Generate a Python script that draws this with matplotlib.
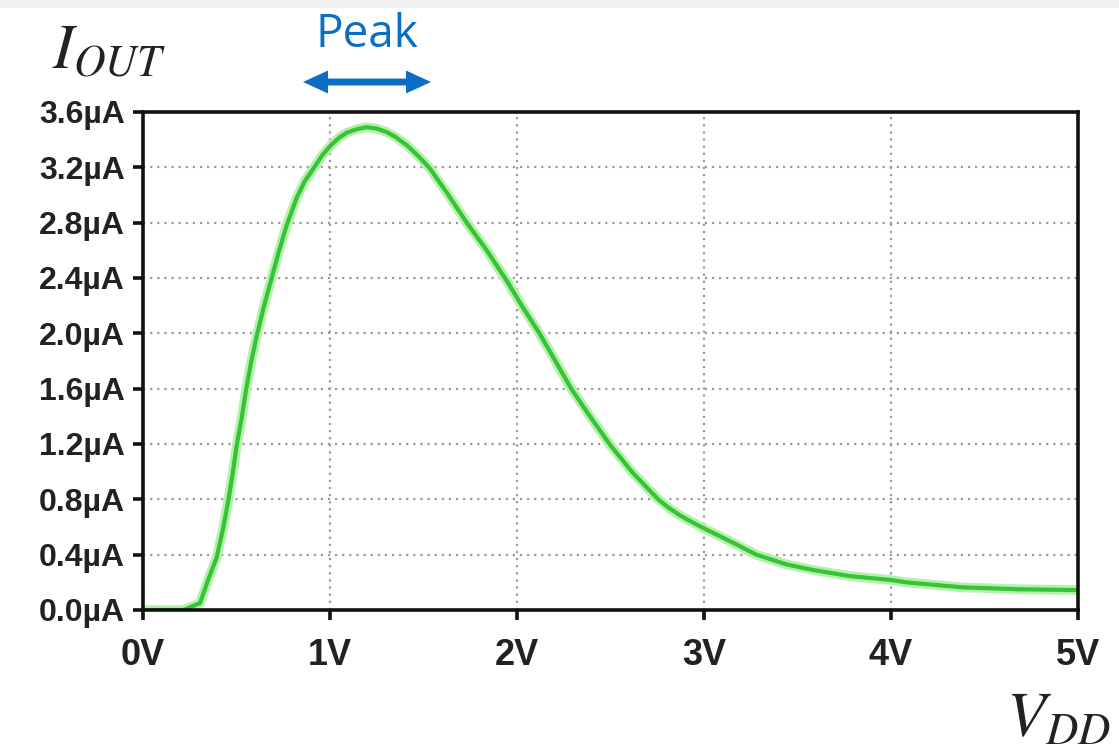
import matplotlib
matplotlib.use("Agg")
import matplotlib.pyplot as plt
from matplotlib.patches import Rectangle, FancyArrowPatch, ArrowStyle

# Output current vs. supply voltage
vdd = [0.00, 0.10, 0.216, 0.305, 0.349, 0.394, 0.43, 0.456, 0.479, 0.501,
       0.528, 0.551, 0.578, 0.608, 0.644, 0.688, 0.724, 0.768, 0.822, 0.865,
       0.911, 0.96, 1.005, 1.05, 1.089, 1.14, 1.196, 1.25, 1.303, 1.35, 1.41,
       1.47, 1.535, 1.633, 1.731, 1.838, 1.95, 2.03, 2.12, 2.205, 2.29, 2.39,
       2.50, 2.62, 2.755, 2.81, 2.87, 2.93, 3.00, 3.15, 3.28, 3.44, 3.58,
       3.78, 4.00, 4.08, 4.38, 4.68, 5.00]
iout = [0.00, 0.00, 0.00, 0.05, 0.22, 0.38, 0.60, 0.79, 0.98, 1.19,
        1.39, 1.59, 1.79, 1.98, 2.18, 2.40, 2.58, 2.78, 2.98, 3.10,
        3.19, 3.29, 3.36, 3.415, 3.45, 3.475, 3.49, 3.48, 3.455, 3.42, 3.36,
        3.285, 3.19, 3.00, 2.80, 2.60, 2.37, 2.19, 2.00, 1.80, 1.60, 1.40,
        1.19, 0.99, 0.80, 0.74, 0.685, 0.64, 0.59, 0.49, 0.40, 0.33, 0.29,
        0.245, 0.217, 0.20, 0.164, 0.150, 0.144]

x_ticks = [0, 1, 2, 3, 4, 5]
x_labels = ["0V", "1V", "2V", "3V", "4V", "5V"]
y_ticks = [0.0, 0.4, 0.8, 1.2, 1.6, 2.0, 2.4, 2.8, 3.2, 3.6]
y_labels = ["0.0µA", "0.4µA", "0.8µA", "1.2µA", "1.6µA", "2.0µA",
            "2.4µA", "2.8µA", "3.2µA", "3.6µA"]

W, H = 1119, 751
fig = plt.figure(figsize=(W / 100, H / 100), dpi=100)
fig.patch.set_facecolor("white")

# light band across the top edge
fig.add_artist(Rectangle((0, 1 - 8 / H), 1, 8 / H, transform=fig.transFigure,
                         facecolor="#f0f0f3", edgecolor="none"))

ax = fig.add_axes([143 / W, 1 - 610 / H, (1078 - 143) / W, (610 - 112) / H])
ax.set_xlim(0, 5)
ax.set_ylim(0, 3.6)

ax.grid(True, color="#9a9a9a", linestyle=(0, (1, 2.2)), linewidth=1.6)
ax.set_axisbelow(True)

# glow + core of the trace
ax.plot(vdd, iout, color="#b4f2ac", linewidth=7.0, solid_capstyle="round",
        solid_joinstyle="round", zorder=3)
ax.plot(vdd, iout, color="#38c238", linewidth=3.0, solid_capstyle="round",
        solid_joinstyle="round", zorder=4)

for s in ax.spines.values():
    s.set_linewidth(2.6)
    s.set_color("#111111")
    s.set_zorder(5)

tick_font = dict(family="Liberation Sans", weight="bold")
ax.set_xticks(x_ticks)
ax.set_xticklabels(x_labels, fontsize=26, color="#222222", **tick_font)
ax.set_yticks(y_ticks)
ax.set_yticklabels(y_labels, fontsize=23, color="#222222", **tick_font)
ax.tick_params(axis="x", direction="out", length=7, width=2.6, pad=13,
               color="#111111")
ax.tick_params(axis="y", direction="out", length=7, width=2.6, pad=6,
               color="#111111")

plt.rcParams["mathtext.fontset"] = "stix"

# axis names
fig.text(52 / W, 1 - 68 / H, r"$I_{OUT}$", fontsize=45, color="#222222",
         ha="left", va="baseline")
fig.text(1006 / W, 1 - 737 / H, r"$V_{DD}$", fontsize=46, color="#222222",
         ha="left", va="baseline")

# peak marker: double-headed arrow drawn as two halves from the centre
blue = "#0a6fc2"
fig.text(367 / W, 1 - 47 / H, "Peak", fontsize=33, color=blue,
         family="Open Sans", ha="center", va="baseline")
head = ArrowStyle.Simple(head_length=18, head_width=16.5, tail_width=5)
yc = 1 - 82 / H
xc = 367 / W
for xe in (303 / W, 431 / W):
    fig.add_artist(FancyArrowPatch((xc, yc), (xe, yc), transform=fig.transFigure,
                                   arrowstyle=head, mutation_scale=1,
                                   linewidth=0, color=blue,
                                   shrinkA=0, shrinkB=0))

fig.savefig("out.png", dpi=100)
